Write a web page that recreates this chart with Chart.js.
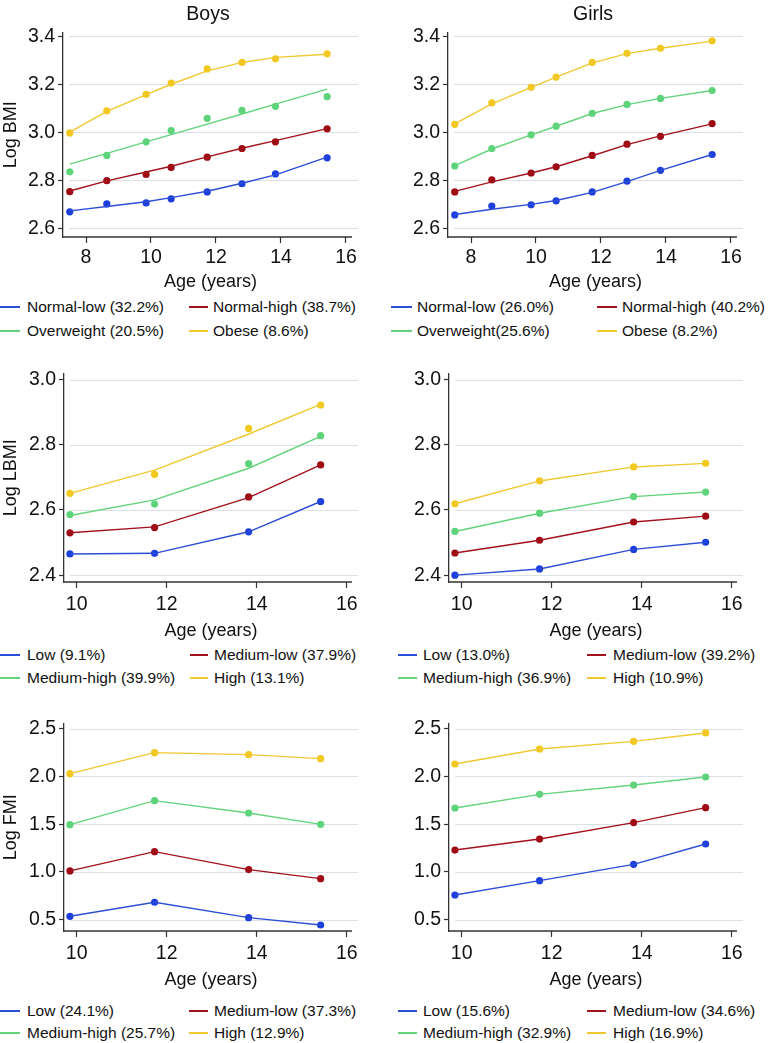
<!DOCTYPE html>
<html><head><meta charset="utf-8">
<script src="https://cdn.jsdelivr.net/npm/chart.js@4.4.1/dist/chart.umd.min.js"></script>
<style>
html,body{margin:0;padding:0;background:#fff;}
body{width:769px;height:1043px;position:relative;overflow:hidden;font-family:"Liberation Sans",Arial,Helvetica,sans-serif;color:#111;}
canvas{position:absolute;}
.title{position:absolute;font-size:19.5px;transform:translate(-50%,-50%);white-space:nowrap;}
.lg-line{position:absolute;height:1.5px;}
.lg-text{position:absolute;font-size:15.5px;line-height:18px;white-space:nowrap;}
</style></head><body>
<script>
// ---------- DATA ----------
const bmiAges = [7.5, 8.64, 9.85, 10.62, 11.73, 12.8, 13.83, 15.42];
const compAges = [9.85, 11.73, 13.82, 15.42];

const bmiXTicks = [8, 10, 12, 14, 16];
const compXTicks = [10, 12, 14, 16];
const bmiYTicks = [2.6, 2.8, 3.0, 3.2, 3.4];
const lbmiYTicks = [2.4, 2.6, 2.8, 3.0];
const fmiYTicks = [0.5, 1.0, 1.5, 2.0, 2.5];

const panelTitles = ['Boys', 'Girls'];
const xTitle = 'Age (years)';

// Boys BMI
const boysBmiLabels = ['Normal-low (32.2%)', 'Normal-high (38.7%)', 'Overweight (20.5%)', 'Obese (8.6%)'];
const boysBmiNormalLowObs  = [2.668, 2.701, 2.705, 2.722, 2.751, 2.785, 2.826, 2.893];
const boysBmiNormalHighObs = [2.752, 2.798, 2.824, 2.853, 2.896, 2.932, 2.960, 3.014];
const boysBmiOverweightObs = [2.835, 2.903, 2.960, 3.007, 3.058, 3.091, 3.108, 3.148];
const boysBmiObeseObs      = [2.997, 3.089, 3.158, 3.205, 3.264, 3.291, 3.306, 3.327];
const boysBmiNormalLowFit  = [2.672, 2.690, 2.710, 2.727, 2.754, 2.787, 2.822, 2.896];
const boysBmiNormalHighFit = [2.755, 2.797, 2.834, 2.858, 2.897, 2.933, 2.965, 3.015];
const boysBmiOverweightFit = [2.867, 2.912, 2.960, 2.990, 3.034, 3.076, 3.117, 3.180];
const boysBmiObeseFit      = [3.000, 3.087, 3.157, 3.200, 3.256, 3.291, 3.312, 3.325];

// Girls BMI
const girlsBmiLabels = ['Normal-low (26.0%)', 'Normal-high (40.2%)', 'Overweight(25.6%)', 'Obese (8.2%)'];
const girlsBmiNormalLowObs  = [2.655, 2.692, 2.697, 2.714, 2.751, 2.796, 2.841, 2.907];
const girlsBmiNormalHighObs = [2.751, 2.801, 2.830, 2.856, 2.903, 2.950, 2.983, 3.036];
const girlsBmiOverweightObs = [2.859, 2.932, 2.989, 3.025, 3.079, 3.116, 3.141, 3.174];
const girlsBmiObeseObs      = [3.033, 3.122, 3.187, 3.230, 3.291, 3.329, 3.350, 3.381];
const girlsBmiNormalLowFit  = [2.657, 2.679, 2.699, 2.715, 2.749, 2.794, 2.841, 2.907];
const girlsBmiNormalHighFit = [2.753, 2.793, 2.830, 2.856, 2.902, 2.948, 2.985, 3.035];
const girlsBmiOverweightFit = [2.861, 2.930, 2.989, 3.025, 3.078, 3.115, 3.141, 3.174];
const girlsBmiObeseFit      = [3.035, 3.118, 3.187, 3.230, 3.289, 3.328, 3.350, 3.380];

// Boys LBMI
const boysLbmiLabels = ['Low (9.1%)', 'Medium-low (37.9%)', 'Medium-high (39.9%)', 'High (13.1%)'];
const boysLbmiLowObs     = [2.465, 2.467, 2.533, 2.626];
const boysLbmiMedLowObs  = [2.530, 2.546, 2.640, 2.738];
const boysLbmiMedHighObs = [2.586, 2.618, 2.742, 2.828];
const boysLbmiHighObs    = [2.651, 2.709, 2.850, 2.922];
const boysLbmiLowFit     = [2.465, 2.467, 2.533, 2.626];
const boysLbmiMedLowFit  = [2.530, 2.548, 2.638, 2.738];
const boysLbmiMedHighFit = [2.583, 2.631, 2.728, 2.826];
const boysLbmiHighFit    = [2.651, 2.722, 2.833, 2.924];

// Girls LBMI
const girlsLbmiLabels = ['Low (13.0%)', 'Medium-low (39.2%)', 'Medium-high (36.9%)', 'High (10.9%)'];
const girlsLbmiLow     = [2.400, 2.419, 2.479, 2.501];
const girlsLbmiMedLow  = [2.468, 2.507, 2.563, 2.581];
const girlsLbmiMedHigh = [2.534, 2.590, 2.641, 2.655];
const girlsLbmiHigh    = [2.619, 2.689, 2.732, 2.743];

// Boys FMI
const boysFmiLabels = ['Low (24.1%)', 'Medium-low (37.3%)', 'Medium-high (25.7%)', 'High (12.9%)'];
const boysFmiLow     = [0.535, 0.682, 0.521, 0.444];
const boysFmiMedLow  = [1.010, 1.212, 1.024, 0.929];
const boysFmiMedHigh = [1.495, 1.746, 1.617, 1.498];
const boysFmiHigh    = [2.029, 2.249, 2.228, 2.186];

// Girls FMI
const girlsFmiLabels = ['Low (15.6%)', 'Medium-low (34.6%)', 'Medium-high (32.9%)', 'High (16.9%)'];
const girlsFmiLow     = [0.758, 0.908, 1.079, 1.292];
const girlsFmiMedLow  = [1.229, 1.344, 1.516, 1.673];
const girlsFmiMedHigh = [1.669, 1.812, 1.910, 1.994];
const girlsFmiHigh    = [2.130, 2.287, 2.367, 2.455];

// ---------- STYLE ----------
const dotColors  = ['#1c3fdc', '#9e0a14', '#5dd37a', '#f2c81e'];
const lineColors = ['#2d4ed6', '#a3121c', '#63d47c', '#f0c830'];
const gridColor = '#dde1e5';
const axisColor = '#333';
const FONT = '"Liberation Sans", Arial, Helvetica, sans-serif';
const TICK_SIZE = 19.5, AXIS_TITLE_SIZE = 18;

const panels = [
  {left:0,   areaTop:32,  areaBottom:237, yAxisW:63, xMin:7.292, xMax:16.37, yMin:2.563, yMax:3.415,
   tickPad:3, titleOff:45, yTitle:'Log BMI', ages:bmiAges, xTicks:bmiXTicks, yTicks:bmiYTicks, labels:boysBmiLabels,
   obs:[boysBmiNormalLowObs, boysBmiNormalHighObs, boysBmiOverweightObs, boysBmiObeseObs],
   fit:[boysBmiNormalLowFit, boysBmiNormalHighFit, boysBmiOverweightFit, boysBmiObeseFit],
   lg:{rows:[307,331], c1:[0,20,27], c2:[189,208,213]}},
  {left:385, areaTop:32,  areaBottom:237, yAxisW:63, xMin:7.292, xMax:16.37, yMin:2.563, yMax:3.415,
   tickPad:3, titleOff:45, yTitle:'', ages:bmiAges, xTicks:bmiXTicks, yTicks:bmiYTicks, labels:girlsBmiLabels,
   obs:[girlsBmiNormalLowObs, girlsBmiNormalHighObs, girlsBmiOverweightObs, girlsBmiObeseObs],
   fit:[girlsBmiNormalLowFit, girlsBmiNormalHighFit, girlsBmiOverweightFit, girlsBmiObeseFit],
   lg:{rows:[307,331], c1:[391,412,417], c2:[597,617,622]}},
  {left:0,   areaTop:373, areaBottom:582, yAxisW:64, xMin:9.718, xMax:16.25, yMin:2.379, yMax:3.018,
   tickPad:5, titleOff:49, yTitle:'Log LBMI', ages:compAges, xTicks:compXTicks, yTicks:lbmiYTicks, labels:boysLbmiLabels,
   obs:[boysLbmiLowObs, boysLbmiMedLowObs, boysLbmiMedHighObs, boysLbmiHighObs],
   fit:[boysLbmiLowFit, boysLbmiMedLowFit, boysLbmiMedHighFit, boysLbmiHighFit],
   lg:{rows:[655,678], c1:[0,20,27], c2:[190,208,214]}},
  {left:385, areaTop:373, areaBottom:582, yAxisW:64, xMin:9.718, xMax:16.25, yMin:2.379, yMax:3.018,
   tickPad:5, titleOff:49, yTitle:'', ages:compAges, xTicks:compXTicks, yTicks:lbmiYTicks, labels:girlsLbmiLabels,
   obs:[girlsLbmiLow, girlsLbmiMedLow, girlsLbmiMedHigh, girlsLbmiHigh],
   fit:[girlsLbmiLow, girlsLbmiMedLow, girlsLbmiMedHigh, girlsLbmiHigh],
   lg:{rows:[655,678], c1:[398,417,423], c2:[587,606,613]}},
  {left:0,   areaTop:723, areaBottom:931, yAxisW:64, xMin:9.718, xMax:16.25, yMin:0.381, yMax:2.552,
   tickPad:5, titleOff:49, yTitle:'Log FMI', ages:compAges, xTicks:compXTicks, yTicks:fmiYTicks, labels:boysFmiLabels,
   obs:[boysFmiLow, boysFmiMedLow, boysFmiMedHigh, boysFmiHigh],
   fit:[boysFmiLow, boysFmiMedLow, boysFmiMedHigh, boysFmiHigh],
   lg:{rows:[1011,1033], c1:[0,20,27], c2:[189,208,214]}},
  {left:385, areaTop:723, areaBottom:931, yAxisW:64, xMin:9.718, xMax:16.25, yMin:0.381, yMax:2.552,
   tickPad:5, titleOff:49, yTitle:'', ages:compAges, xTicks:compXTicks, yTicks:fmiYTicks, labels:girlsFmiLabels,
   obs:[girlsFmiLow, girlsFmiMedLow, girlsFmiMedHigh, girlsFmiHigh],
   fit:[girlsFmiLow, girlsFmiMedLow, girlsFmiMedHigh, girlsFmiHigh],
   lg:{rows:[1011,1033], c1:[398,417,423], c2:[587,606,613]}}
];

const stataPlugin = {
  id: 'stata',
  beforeDatasetsDraw(chart) {
    const {ctx, chartArea: a, scales: {x, y}} = chart;
    ctx.save();
    ctx.strokeStyle = gridColor; ctx.lineWidth = 1;
    y.ticks.forEach(t => {
      const py = Math.round(y.getPixelForValue(t.value)) + 0.5;
      ctx.beginPath(); ctx.moveTo(a.left + 6, py); ctx.lineTo(a.right, py); ctx.stroke();
    });
    ctx.strokeStyle = axisColor; ctx.lineWidth = 1.3;
    ctx.beginPath(); ctx.moveTo(a.left, a.bottom); ctx.lineTo(a.right - 6, a.bottom); ctx.stroke();
    ctx.restore();
  }
};

const toXY = (xs, ys) => xs.map((v, i) => ({x: v, y: ys[i]}));

panels.forEach(p => {
  const canvasTop = p.areaTop - 14;
  const xH = p.titleOff + AXIS_TITLE_SIZE * 0.6;
  const H = Math.ceil(p.areaBottom - canvasTop + xH);
  const padBottom = H - (p.areaBottom - canvasTop) - xH;
  const cv = document.createElement('canvas');
  cv.width = 385; cv.height = H;
  cv.style.left = p.left + 'px'; cv.style.top = canvasTop + 'px';
  cv.style.width = '385px'; cv.style.height = H + 'px';
  document.body.appendChild(cv);

  const datasets = [];
  p.fit.forEach((arr, i) => datasets.push({
    label: p.labels[i], data: toXY(p.ages, arr), showLine: true, pointRadius: 0,
    borderColor: lineColors[i], borderWidth: 1.4, backgroundColor: lineColors[i], order: 0, tension: 0
  }));
  p.obs.forEach((arr, i) => datasets.push({
    label: p.labels[i] + ' obs', data: toXY(p.ages, arr), showLine: false, pointRadius: 3.6,
    pointBorderWidth: 0, backgroundColor: dotColors[i], borderColor: dotColors[i], order: 1
  }));

  new Chart(cv, {
    type: 'scatter',
    data: {datasets},
    plugins: [stataPlugin],
    options: {
      responsive: false, animation: false, devicePixelRatio: 1,
      layout: {padding: {top: 14, right: 27, left: 0, bottom: padBottom}},
      plugins: {legend: {display: false}, tooltip: {enabled: false}, title: {display: false}},
      scales: {
        x: {
          type: 'linear', min: p.xMin, max: p.xMax,
          afterBuildTicks: s => { s.ticks = p.xTicks.map(v => ({value: v})); },
          afterFit: s => { s.height = xH; },
          grid: {drawOnChartArea: false, drawTicks: true, tickLength: 6, tickColor: axisColor, tickWidth: 1.2},
          border: {display: false},
          ticks: {padding: p.tickPad, color: '#111', font: {family: FONT, size: TICK_SIZE}, maxRotation: 0, autoSkip: false,
                  callback: v => String(v)},
          title: {display: true, text: xTitle, color: '#111', font: {family: FONT, size: AXIS_TITLE_SIZE, lineHeight: 1.2}, padding: 0}
        },
        y: {
          type: 'linear', min: p.yMin, max: p.yMax,
          afterBuildTicks: s => { s.ticks = p.yTicks.map(v => ({value: v})); },
          afterFit: s => { s.width = p.yAxisW; },
          grid: {drawOnChartArea: false, drawTicks: true, tickLength: 5, tickColor: axisColor, tickWidth: 1.2},
          border: {display: true, color: axisColor, width: 1.3},
          ticks: {padding: 3, color: '#111', font: {family: FONT, size: TICK_SIZE}, autoSkip: false,
                  callback: v => Number(v).toFixed(1)},
          title: {display: !!p.yTitle, text: p.yTitle, color: '#111', font: {family: FONT, size: AXIS_TITLE_SIZE, lineHeight: 1.2}, padding: 0}
        }
      }
    }
  });

  // HTML legend built from the fitted-line datasets
  const cols = [p.lg.c1, p.lg.c2, p.lg.c1, p.lg.c2];
  const rows = [p.lg.rows[0], p.lg.rows[0], p.lg.rows[1], p.lg.rows[1]];
  datasets.slice(0, 4).forEach((ds, i) => {
    const c = cols[i], ry = rows[i];
    const ln = document.createElement('div');
    ln.className = 'lg-line';
    ln.style.left = c[0] + 'px'; ln.style.width = (c[1] - c[0]) + 'px';
    ln.style.top = (ry - 0.75) + 'px'; ln.style.background = ds.borderColor;
    document.body.appendChild(ln);
    const tx = document.createElement('div');
    tx.className = 'lg-text';
    tx.style.left = c[2] + 'px'; tx.style.top = (ry - 9) + 'px';
    tx.textContent = ds.label;
    document.body.appendChild(tx);
  });
});

// Column titles
[[208, panelTitles[0]], [593, panelTitles[1]]].forEach(([cx, t]) => {
  const d = document.createElement('div');
  d.className = 'title'; d.style.left = cx + 'px'; d.style.top = '13px'; d.textContent = t;
  document.body.appendChild(d);
});
</script>
</body></html>
